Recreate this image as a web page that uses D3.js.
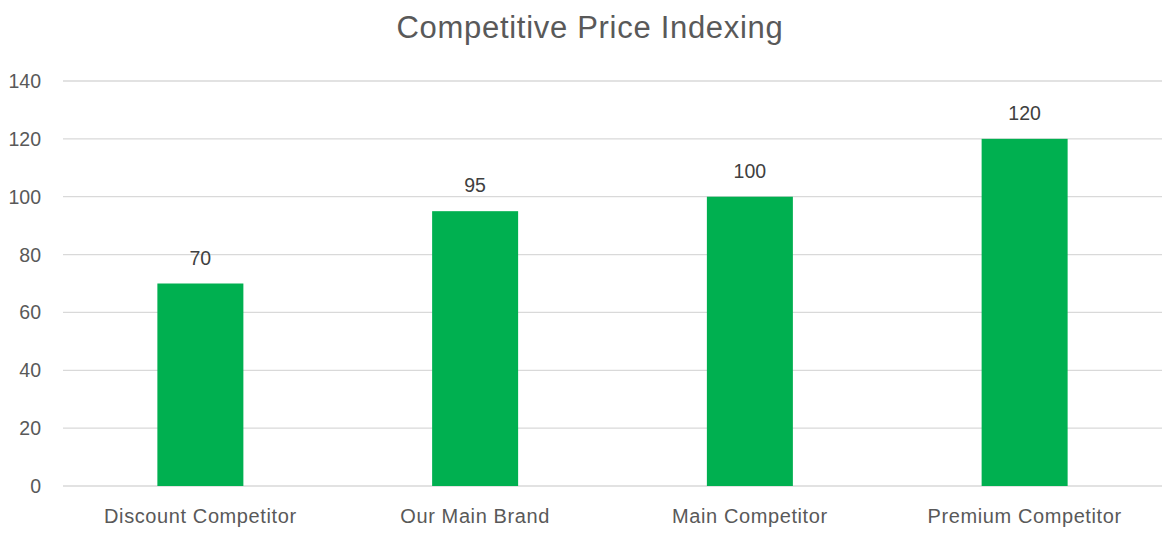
<!doctype html>
<meta charset="utf-8">
<title>Competitive Price Indexing</title>
<style>
body { margin: 0; background: #fff; }
svg { font-family: "Liberation Sans", Arial, sans-serif; }
</style>
<script src="https://cdn.jsdelivr.net/npm/d3@7"></script>
<body>
<svg id="chart" width="1171" height="534"></svg>
<script>
// chart data
var categories = ["Discount Competitor", "Our Main Brand", "Main Competitor", "Premium Competitor"];
var priceIndex = [70, 95, 100, 120];
var yTicks = [0, 20, 40, 60, 80, 100, 120, 140];

var svg = d3.select("#chart");
var plotLeft = 63, plotRight = 1162, plotTop = 81, plotBottom = 486;

var x = d3.scaleBand().domain(categories).range([plotLeft, plotRight]).paddingInner(0.687).paddingOuter(0.3435);
var y = d3.scaleLinear().domain([0, 140]).range([plotBottom, plotTop]);

svg.append("text")
  .attr("x", 590).attr("y", 38)
  .attr("text-anchor", "middle")
  .attr("font-size", 31)
  .attr("letter-spacing", 0.7)
  .attr("fill", "#595959")
  .text("Competitive Price Indexing");

// gridlines
svg.append("g").selectAll("line").data(yTicks).join("line")
  .attr("x1", plotLeft).attr("x2", plotRight)
  .attr("y1", d => y(d)).attr("y2", d => y(d))
  .attr("stroke", "#d9d9d9").attr("stroke-width", 1.3);

// y labels
svg.append("g").selectAll("text").data(yTicks).join("text")
  .attr("x", 41).attr("y", d => y(d) + 7)
  .attr("text-anchor", "end")
  .attr("font-size", 19.5)
  .attr("fill", "#595959")
  .text(d => d);

// bars
svg.append("g").selectAll("rect").data(priceIndex).join("rect")
  .attr("x", (d, i) => x(categories[i]))
  .attr("y", d => y(d))
  .attr("width", x.bandwidth())
  .attr("height", d => plotBottom - y(d))
  .attr("fill", "#00b050");

// data labels
svg.append("g").selectAll("text").data(priceIndex).join("text")
  .attr("x", (d, i) => x(categories[i]) + x.bandwidth() / 2)
  .attr("y", d => y(d) - 19)
  .attr("text-anchor", "middle")
  .attr("font-size", 19.5)
  .attr("fill", "#404040")
  .text(d => d);

// x labels
svg.append("g").selectAll("text").data(categories).join("text")
  .attr("x", d => x(d) + x.bandwidth() / 2)
  .attr("y", 523)
  .attr("text-anchor", "middle")
  .attr("font-size", 20)
  .attr("letter-spacing", 0.6)
  .attr("fill", "#595959")
  .text(d => d);
</script>
</body>
